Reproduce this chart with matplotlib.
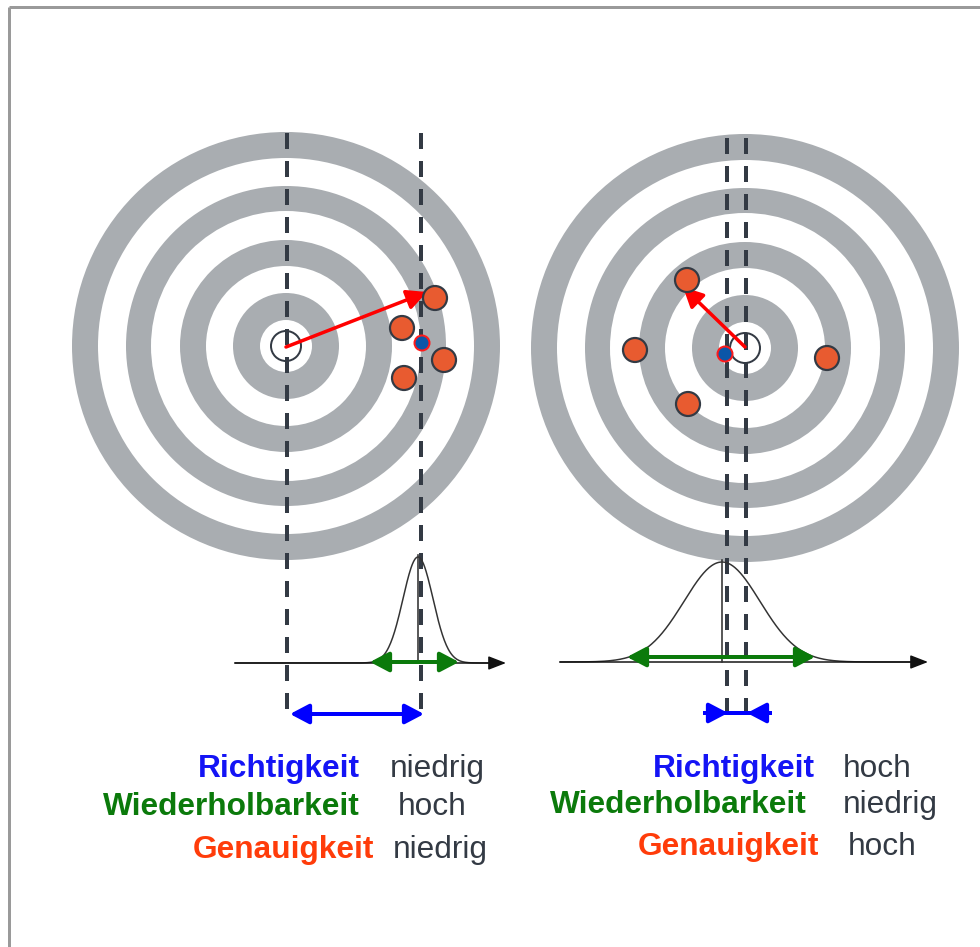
import numpy as np
import matplotlib
matplotlib.use("Agg")
import matplotlib.pyplot as plt
from matplotlib.patches import Circle

plt.rcParams['font.family'] = ['Liberation Sans', 'DejaVu Sans']
plt.rcParams['lines.scale_dashes'] = False

W, H = 980, 947
PX = 0.72  # points per pixel at dpi=100

# ---- data ----
target_centers = [(286, 346), (745, 348)]
ring_radii = [214, 188, 160, 135, 106, 80, 53, 26]   # alternating gray / white edges
bull_radius = 15

left_hits_x = [435, 402, 444, 404]
left_hits_y = [298, 328, 360, 378]
left_mean = (422, 343)

right_hits_x = [687, 635, 827, 688]
right_hits_y = [280, 350, 358, 404]
right_mean = (725, 354)

# dashed reference lines: (x, y_top, y_bottom)
dashed_lines = [(287, 133, 712), (421, 133, 712), (727, 138, 716), (746, 138, 716)]

# distributions: mean x, sigma, height, baseline y, axis x-start, axis x-end
dist_mean = [418, 722]
dist_sigma = [15, 38]
dist_height = [106, 100]
dist_base = [663, 662]
axis_start = [235, 560]
axis_end = [506, 928]

# green spread arrows (x1, x2, y)
spread = [(370, 459, 662), (627, 815, 657)]

labels = ["Richtigkeit", "Wiederholbarkeit", "Genauigkeit"]
label_colors = ["#1414f5", "#0b7a0b", "#ff3c0a"]
left_values = ["niedrig", "hoch", "niedrig"]
right_values = ["hoch", "niedrig", "hoch"]
left_label_right = [360, 360, 374]
left_label_base = [777, 815, 858]
left_value_x = [390, 398, 393]
right_label_right = [815, 807, 819]
right_label_base = [777, 813, 855]
right_value_x = [843, 843, 848]

# ---- figure ----
fig = plt.figure(figsize=(W / 100, H / 100), dpi=100)
ax = fig.add_axes([0, 0, 1, 1])
ax.set_xlim(0, W)
ax.set_ylim(H, 0)
ax.axis('off')

GRAY = "#a9adb1"
DARK = "#333a44"
ORANGE = "#e85b30"

# border
ax.plot([9, 9], [H, 7], color="#9a9a9a", lw=3 * PX, solid_capstyle='butt')
ax.plot([9, W], [7, 7], color="#9a9a9a", lw=3 * PX, solid_capstyle='butt')

# targets
for (cx, cy) in target_centers:
    for i, r in enumerate(ring_radii):
        ax.add_patch(Circle((cx, cy), r, facecolor=GRAY if i % 2 == 0 else "white",
                            edgecolor='none', zorder=1))

# dashed lines
for (x, y0, y1) in dashed_lines:
    ax.plot([x, x], [y0, y1], color=DARK, lw=4 * PX, dashes=(16 * PX, 12 * PX),
            zorder=2)

# bull circles
for (cx, cy) in target_centers:
    ax.add_patch(Circle((cx, cy), bull_radius, facecolor='none', edgecolor=DARK,
                        lw=2.0 * PX, zorder=3))

def arrow(x0, y0, x1, y1, color, lw, style, hl=0.9, hw=0.45, ms=12, z=5):
    ax.annotate("", xy=(x1, y1), xytext=(x0, y0),
                arrowprops=dict(arrowstyle=f"{style},head_length={hl},head_width={hw}",
                                color=color, lw=lw * PX, shrinkA=0, shrinkB=0,
                                mutation_scale=ms),
                zorder=z)

# arrows from centre to mean hit
arrow(286, 347, 427, 292, "#ff0000", 3.5, "-|>", hl=1.0, hw=0.5)
arrow(745, 347, 683, 287, "#ff0000", 3.5, "-|>", hl=1.0, hw=0.5)

# hits
for xs, ys in [(left_hits_x, left_hits_y), (right_hits_x, right_hits_y)]:
    for x, y in zip(xs, ys):
        ax.add_patch(Circle((x, y), 12, facecolor=ORANGE, edgecolor=DARK,
                            lw=2.2 * PX, zorder=6))
for (x, y) in [left_mean, right_mean]:
    ax.add_patch(Circle((x, y), 7.5, facecolor="#0b56a8", edgecolor="#ff1a1a",
                        lw=2.0 * PX, zorder=7))

# distributions
for m, s, h, b, xa, xb in zip(dist_mean, dist_sigma, dist_height, dist_base,
                              axis_start, axis_end):
    xx = np.linspace(xa, xb - 10, 400)
    yy = b - h * np.exp(-0.5 * ((xx - m) / s) ** 2)
    ax.plot(xx, yy, color="#333333", lw=1.5 * PX, zorder=3)
    arrow(xa, b, xb, b, "#111111", 1.5, "-|>", hl=0.9, hw=0.35, ms=12, z=3)
    ax.plot([m, m], [b - h - 2, b], color="#333333", lw=1.6 * PX, zorder=3)

for (x1, x2, y) in spread:
    arrow(x1, y, x2, y, "#0b7a0b", 4, "<|-|>", hl=0.95, hw=0.5)

# blue accuracy arrows
arrow(290, 714, 424, 714, "#0000ff", 4, "<|-|>", hl=0.95, hw=0.5)
ax.plot([705, 770], [713, 713], color="#0000ff", lw=4 * PX, zorder=5)
arrow(705, 713, 728, 713, "#0000ff", 4, "-|>", hl=0.95, hw=0.5)
arrow(770, 713, 747, 713, "#0000ff", 4, "-|>", hl=0.95, hw=0.5)

# text
FS = 22.8
for lab, col, xr, yb, val, xv in zip(labels, label_colors, left_label_right,
                                     left_label_base, left_values, left_value_x):
    ax.text(xr, yb, lab, color=col, fontsize=FS, fontweight='bold', ha='right',
            va='baseline', zorder=8)
    ax.text(xv, yb, val, color=DARK, fontsize=FS, ha='left', va='baseline', zorder=8)
for lab, col, xr, yb, val, xv in zip(labels, label_colors, right_label_right,
                                     right_label_base, right_values, right_value_x):
    ax.text(xr, yb, lab, color=col, fontsize=FS, fontweight='bold', ha='right',
            va='baseline', zorder=8)
    ax.text(xv, yb, val, color=DARK, fontsize=FS, ha='left', va='baseline', zorder=8)

fig.savefig("out.png", dpi=100, facecolor='white')
